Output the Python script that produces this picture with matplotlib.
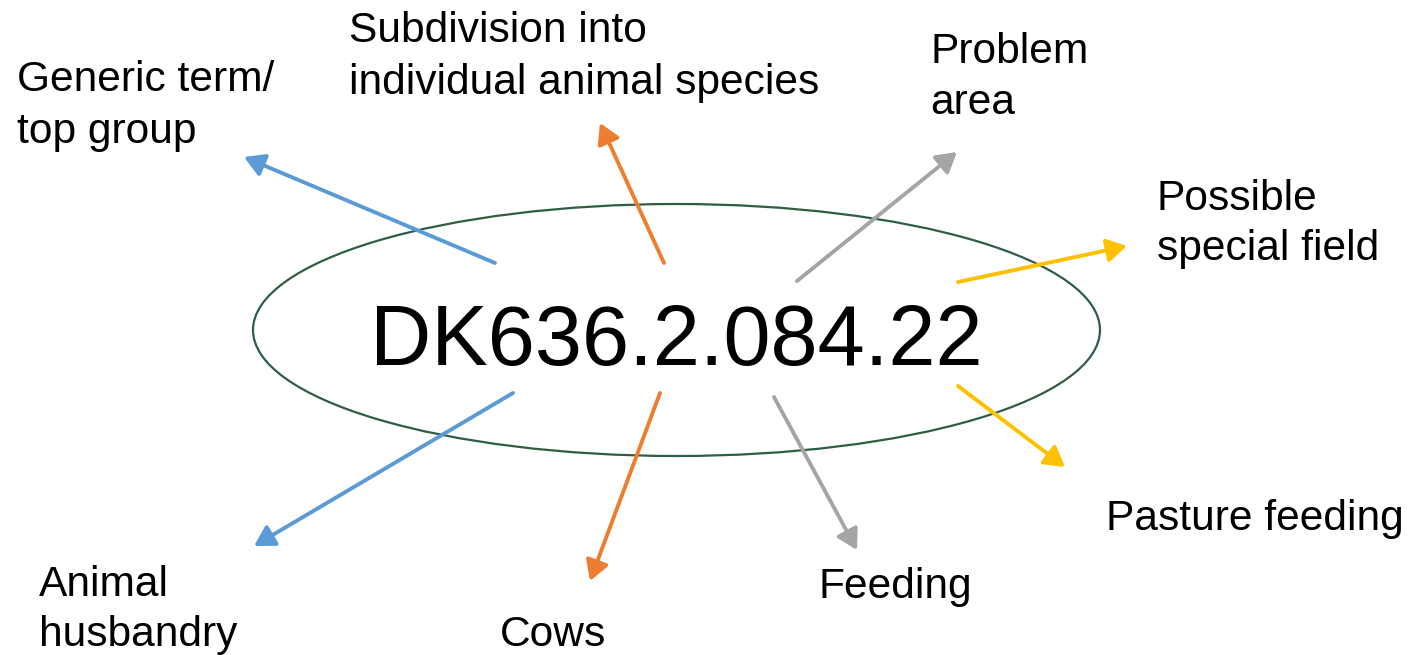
import matplotlib
matplotlib.use("Agg")
import matplotlib.pyplot as plt
from matplotlib.patches import Ellipse, FancyArrowPatch

plt.rcParams['font.family'] = ['Liberation Sans', 'DejaVu Sans']

W, H = 1412, 655
center_code = "DK636.2.084.22"

# label lines: (text, x, baseline y)
label_lines = [
    ("Generic term/", 17, 91),
    ("top group", 17, 143),
    ("Subdivision into", 349, 42),
    ("individual animal species", 349, 94),
    ("Problem", 930, 63),
    ("area", 930, 114),
    ("Possible", 1157, 210),
    ("special field", 1157, 260),
    ("Pasture feeding", 1106, 530),
    ("Feeding", 818, 598),
    ("Cows", 500, 646),
    ("Animal", 39, 596),
    ("husbandry", 39, 646),
]

# arrows: tail -> head, colour
arrow_tails = [(495, 263), (664, 263), (797, 281), (958, 282),
               (513, 393), (660, 393), (774, 397), (958, 386)]
arrow_heads = [(244, 157), (600, 123), (957, 152), (1127, 246),
               (254, 546), (590, 581), (857, 550), (1065, 467)]
arrow_colors = ["#5B9BD5", "#ED7D31", "#A5A5A5", "#FFC000",
                "#5B9BD5", "#ED7D31", "#A5A5A5", "#FFC000"]

ellipse_center = (676.5, 330)
ellipse_size = (847, 252)

fig = plt.figure(figsize=(W / 100, H / 100), dpi=100)
ax = fig.add_axes([0, 0, 1, 1])
ax.set_xlim(0, W)
ax.set_ylim(H, 0)
ax.axis('off')

ax.add_patch(Ellipse(ellipse_center, ellipse_size[0], ellipse_size[1],
                     fill=False, edgecolor="#2E5E43", lw=1.6))

ax.text(676.5, 365, center_code, fontsize=61, ha='center', va='baseline',
        color='black')

for t, h, c in zip(arrow_tails, arrow_heads, arrow_colors):
    ax.add_patch(FancyArrowPatch(t, h, arrowstyle='-|>,head_length=0.6,head_width=0.35',
                                 mutation_scale=20, color=c, lw=2.8,
                                 shrinkA=0, shrinkB=0))

for txt, x, y in label_lines:
    ax.text(x, y, txt, fontsize=30.6, ha='left', va='baseline', color='black')

fig.savefig("out.png", dpi=100)
